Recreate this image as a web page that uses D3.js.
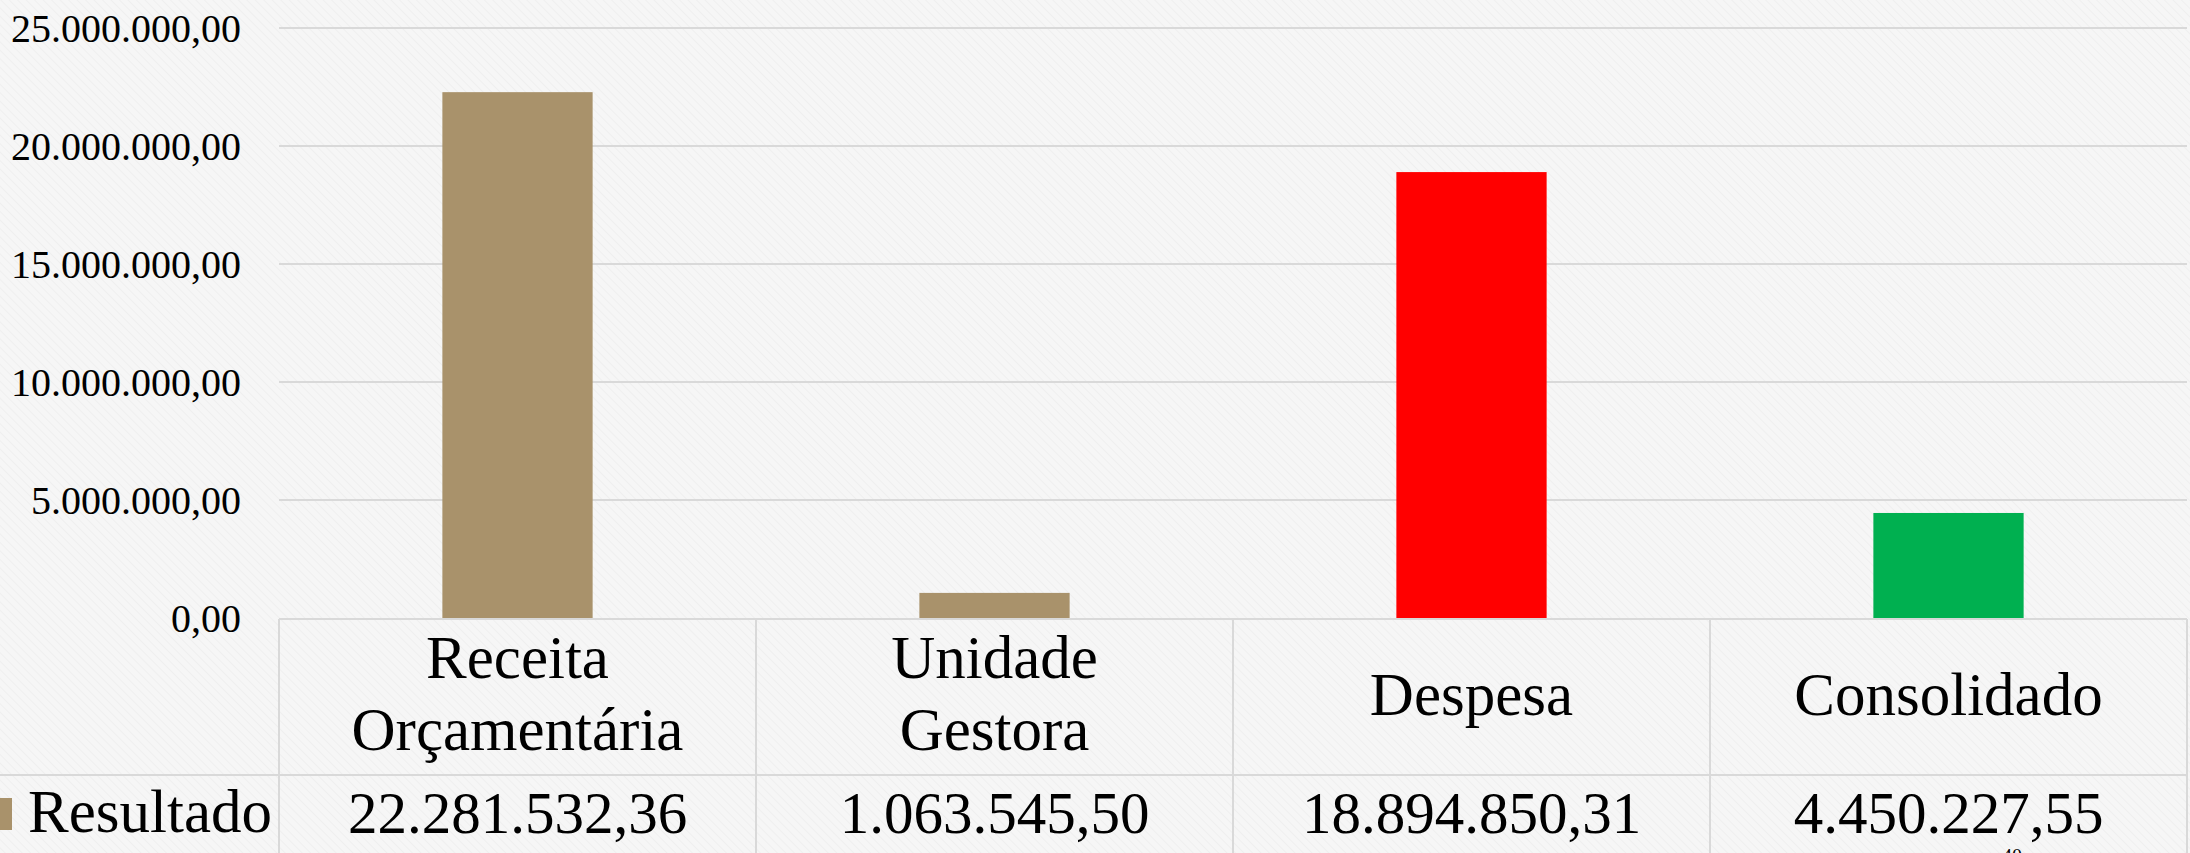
<!DOCTYPE html>
<html>
<head>
<meta charset="utf-8">
<script src="https://cdn.jsdelivr.net/npm/d3@7"></script>
<style>
  html, body { margin: 0; padding: 0; background: #f6f6f6; overflow: hidden; }
  svg { display: block; }
  text { font-family: "Liberation Serif", "Times New Roman", serif; fill: #000; }
</style>
</head>
<body>
<svg width="2190" height="853"></svg>
<script>
var categories = [["Receita", "Orçamentária"], ["Unidade", "Gestora"], ["Despesa"], ["Consolidado"]];
var values = [22281532.36, 1063545.50, 18894850.31, 4450227.55];
var barColors = ["#a9926b", "#a9926b", "#ff0000", "#00b050"];
var yTicks = [0, 5000000, 10000000, 15000000, 20000000, 25000000];
var seriesName = "Resultado";
var pageNumber = "40";

var svg = d3.select("svg");
var width = 2190, height = 853;

var ptBR = d3.formatLocale({ decimal: ",", thousands: ".", grouping: [3], currency: ["R$", ""] });
var fmt = ptBR.format(",.2f");

// subtle paper texture
var defs = svg.append("defs");
var pat = defs.append("pattern")
  .attr("id", "paper")
  .attr("width", 6).attr("height", 6)
  .attr("patternUnits", "userSpaceOnUse")
  .attr("patternTransform", "rotate(-45)");
pat.append("rect").attr("width", 6).attr("height", 6).attr("fill", "#f6f6f6");
pat.append("line").attr("x1", 0).attr("y1", 0).attr("x2", 0).attr("y2", 6)
  .attr("stroke", "#efefef").attr("stroke-width", 2);

svg.append("rect").attr("width", width).attr("height", height).attr("fill", "url(#paper)");

var plotLeft = 279, plotRight = 2187, plotTop = 28, plotBase = 618;

var x = d3.scaleBand()
  .domain(d3.range(categories.length))
  .range([plotLeft, plotRight])
  .padding(0);

var y = d3.scaleLinear()
  .domain([0, 25000000])
  .range([plotBase, plotTop]);

// gridlines
svg.append("g").attr("class", "grid")
  .selectAll("line")
  .data(yTicks.slice(1))
  .enter().append("line")
  .attr("x1", plotLeft).attr("x2", plotRight)
  .attr("y1", function(d) { return y(d); })
  .attr("y2", function(d) { return y(d); })
  .attr("stroke", "#d9d9d9")
  .attr("stroke-width", 2);

// y axis labels
var yAxis = d3.axisLeft(y).tickValues(yTicks).tickFormat(fmt).tickSize(0).tickPadding(38);
var ya = svg.append("g").attr("transform", "translate(" + plotLeft + ",0)").call(yAxis);
ya.select(".domain").remove();
ya.selectAll("text")
  .attr("font-size", 40)
  .attr("font-family", "Liberation Serif, serif")
  .attr("fill", "#000")
  .attr("dy", "0.33em");

// bars
var barW = x.bandwidth() * 0.315;
svg.append("g").attr("class", "bars")
  .selectAll("rect")
  .data(values)
  .enter().append("rect")
  .attr("x", function(d, i) { return x(i) + x.bandwidth() / 2 - barW / 2; })
  .attr("width", barW)
  .attr("y", function(d) { return y(d); })
  .attr("height", function(d) { return y(0) - y(d); })
  .attr("fill", function(d, i) { return barColors[i]; });

// data table
var rowSep = 775;
var table = svg.append("g").attr("class", "table")
  .attr("stroke", "#d9d9d9").attr("stroke-width", 2);
table.append("line").attr("x1", plotLeft).attr("x2", plotRight).attr("y1", plotBase + 1).attr("y2", plotBase + 1);
table.append("line").attr("x1", 0).attr("x2", plotRight).attr("y1", rowSep).attr("y2", rowSep);
table.selectAll("line.v")
  .data(d3.range(categories.length + 1))
  .enter().append("line")
  .attr("class", "v")
  .attr("x1", function(i) { return i < categories.length ? x(i) : plotRight; })
  .attr("x2", function(i) { return i < categories.length ? x(i) : plotRight; })
  .attr("y1", plotBase + 1).attr("y2", height);

var cat = svg.append("g").attr("class", "cats")
  .selectAll("text")
  .data(categories)
  .enter().append("text")
  .attr("text-anchor", "middle")
  .attr("font-size", 61)
  .attr("x", function(d, i) { return x(i) + x.bandwidth() / 2; })
  .attr("y", function(d) { return d.length > 1 ? 678 : 715; });
cat.selectAll("tspan")
  .data(function(d) { return d; })
  .enter().append("tspan")
  .attr("x", function() { return d3.select(this.parentNode).attr("x"); })
  .attr("dy", function(d, i) { return i === 0 ? 0 : 72; })
  .text(function(d) { return d; });

svg.append("g").attr("class", "vals")
  .selectAll("text")
  .data(values)
  .enter().append("text")
  .attr("text-anchor", "middle")
  .attr("font-size", 59)
  .attr("x", function(d, i) { return x(i) + x.bandwidth() / 2; })
  .attr("y", 833)
  .text(function(d) { return fmt(d); });

// legend key + series name
svg.append("rect").attr("x", -20).attr("y", 798).attr("width", 32).attr("height", 32).attr("fill", barColors[0]);
svg.append("text").attr("x", 28).attr("y", 832).attr("font-size", 61).text(seriesName);

// page number
svg.append("text").attr("x", 2012).attr("y", 863).attr("font-size", 20)
  .attr("text-anchor", "middle").text(pageNumber);
</script>
</body>
</html>
